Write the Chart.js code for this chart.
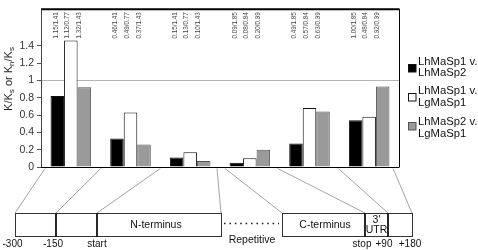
<!DOCTYPE html>
<html>
<head>
<meta charset="utf-8">
<script src="https://cdn.jsdelivr.net/npm/chart.js@4.4.1/dist/chart.umd.min.js"></script>
<style>
  html, body { margin: 0; padding: 0; background: #fff; }
  #wrap { width: 478px; height: 250px; }
</style>
</head>
<body>
<div id="wrap"><canvas id="chart" width="478" height="250"></canvas></div>
<script>
// gene regions (one bar group each)
const regions = ['-300 to -150', '-150 to start', 'N-terminus', 'C-terminus', "3' UTR", '+90 to +180'];

// K ratio per comparison
const sp1VsSp2 = [0.82, 0.33, 0.11, 0.05, 0.27, 0.54];
const sp1VsLg = [1.46, 0.63, 0.17, 0.10, 0.68, 0.58];
const sp2VsLg = [0.92, 0.26, 0.07, 0.20, 0.64, 0.93];

// raw values printed over each bar
const sp1VsSp2Notes = ['1.15/1.41', '0.46/1.41', '0.15/1.41', '0.09/1.85', '0.49/1.85', '1.00/1.85'];
const sp1VsLgNotes = ['1.12/0.77', '0.49/0.77', '0.13/0.77', '0.08/0.84', '0.57/0.84', '0.48/0.84'];
const sp2VsLgNotes = ['1.32/1.43', '0.37/1.43', '0.10/1.43', '0.20/0.99', '0.63/0.99', '0.92/0.99'];

const seriesNames = [['LhMaSp1 v.', 'LhMaSp2'], ['LhMaSp1 v.', 'LgMaSp1'], ['LhMaSp2 v.', 'LgMaSp1']];
const yTickLabels = ['0', '0.2', '0.4', '0.6', '0.8', '1', '1.2', '1.4'];
const geneMarks = ['-300', '-150', 'start', 'stop', '+90', '+180'];

const FONT = "'Liberation Sans', Arial, sans-serif";
const fills = ['#000000', '#ffffff', '#9a9a9a'];
const edges = ['#111111', '#111111', '#555555'];

// schematic layout (pixels)
const boxTop = 213, boxBottom = 236;
const boxEdges = [15, 56, 97, 221, 282, 365, 388, 412];
const markX = [12.5, 53, 97, 362, 384, 410];
const lineOffsets = [[0, 4], [1, 0], [2, 0], [3, -3], [3, 5], [4, -2], [5, -1], [6, -6]];

const extras = {
  id: 'extras',
  afterDatasetsDraw(chart) {
    const { ctx, chartArea: a, scales: { x } } = chart;
    ctx.save();

    // frame
    ctx.strokeStyle = '#000';
    ctx.lineWidth = 2;
    ctx.beginPath(); ctx.moveTo(a.left, a.top); ctx.lineTo(a.right + 0.5, a.top); ctx.stroke();
    ctx.lineWidth = 1;
    ctx.beginPath(); ctx.moveTo(a.right + 0.5, a.top); ctx.lineTo(a.right + 0.5, a.bottom); ctx.stroke();
    ctx.beginPath(); ctx.moveTo(a.left, a.bottom + 0.5); ctx.lineTo(a.right + 0.5, a.bottom + 0.5); ctx.stroke();
    ctx.strokeStyle = '#444';
    ctx.beginPath(); ctx.moveTo(a.left + 0.5, a.top); ctx.lineTo(a.left + 0.5, a.bottom); ctx.stroke();

    // rotated notes above the bars
    const notes = [sp1VsSp2Notes, sp1VsLgNotes, sp2VsLgNotes];
    const shift = [-15, -3.5, 8.5];
    ctx.fillStyle = '#444';
    ctx.font = '6.3px ' + FONT;
    ctx.textAlign = 'right';
    ctx.textBaseline = 'middle';
    regions.forEach((r, i) => {
      const cx = x.getPixelForValue(i);
      notes.forEach((n, k) => {
        ctx.save();
        ctx.translate(cx + shift[k], a.top + 3);
        ctx.rotate(-Math.PI / 2);
        ctx.fillText(n[i], 0, 0);
        ctx.restore();
      });
    });

    // y title with subscripts
    const parts = [['K', 0], ['/', 0], ['K', 0], ['s', 1], [' or ', 0], ['K', 0], ['n', 1], ['/', 0], ['K', 0], ['s', 1]];
    const big = '11px ' + FONT, small = '8px ' + FONT;
    let len = 0;
    parts.forEach(p => { ctx.font = p[1] ? small : big; len += ctx.measureText(p[0]).width; });
    ctx.save();
    ctx.translate(11.5, 79);
    ctx.rotate(-Math.PI / 2);
    ctx.fillStyle = '#222';
    ctx.textAlign = 'left';
    ctx.textBaseline = 'alphabetic';
    let px = -len / 2;
    parts.forEach(p => {
      ctx.font = p[1] ? small : big;
      ctx.fillText(p[0], px, p[1] ? 2.5 : 0);
      px += ctx.measureText(p[0]).width;
    });
    ctx.restore();

    // legend
    const lineY = [[62, 73], [91, 102.5], [122, 133.5]];
    const sqY = [68, 97, 126];
    ctx.font = '11.3px ' + FONT;
    ctx.textAlign = 'left';
    ctx.textBaseline = 'middle';
    seriesNames.forEach((name, i) => {
      ctx.fillStyle = fills[i];
      ctx.fillRect(408.5, sqY[i] - 3.5, 7.5, 7.5);
      ctx.strokeStyle = edges[i];
      ctx.lineWidth = 1;
      ctx.strokeRect(408.5, sqY[i] - 3.5, 7.5, 7.5);
      ctx.fillStyle = '#111';
      name.forEach((t, j) => ctx.fillText(t, 418, lineY[i][j]));
    });

    // connectors to the gene schematic
    const step = x.width / regions.length;
    ctx.strokeStyle = '#999';
    ctx.lineWidth = 0.9;
    lineOffsets.forEach(([b, off], i) => {
      ctx.beginPath();
      ctx.moveTo(x.left + b * step + off, a.bottom + 1.5);
      ctx.lineTo(boxEdges[i], boxTop);
      ctx.stroke();
    });

    // gene schematic boxes
    ctx.strokeStyle = '#333';
    ctx.lineWidth = 1;
    ctx.strokeRect(boxEdges[0] + 0.5, boxTop + 0.5, boxEdges[3] - boxEdges[0], boxBottom - boxTop);
    ctx.strokeRect(boxEdges[4] + 0.5, boxTop + 0.5, boxEdges[7] - boxEdges[4], boxBottom - boxTop);
    ctx.strokeStyle = '#111';
    ctx.lineWidth = 1.8;
    [1, 2, 5, 6].forEach(k => {
      ctx.beginPath();
      ctx.moveTo(boxEdges[k], boxTop);
      ctx.lineTo(boxEdges[k], boxBottom + 1);
      ctx.stroke();
    });

    // repetitive dots
    ctx.save();
    ctx.strokeStyle = '#222';
    ctx.lineWidth = 1.6;
    ctx.setLineDash([1.6, 3.8]);
    ctx.beginPath();
    ctx.moveTo(224, 223.5);
    ctx.lineTo(279, 223.5);
    ctx.stroke();
    ctx.restore();

    ctx.fillStyle = '#111';
    ctx.font = '10.5px ' + FONT;
    ctx.textAlign = 'center';
    ctx.textBaseline = 'middle';
    ctx.fillText('N-terminus', 156, 225);
    ctx.fillText('C-terminus', 325, 225);
    ctx.fillText("3'", 376.5, 220);
    ctx.fillText('UTR', 376.5, 230.5);
    ctx.fillText('Repetitive', 252, 240);
    ctx.font = '10px ' + FONT;
    geneMarks.forEach((m, i) => ctx.fillText(m, markX[i], 244));

    ctx.restore();
  }
};

new Chart(document.getElementById('chart'), {
  type: 'bar',
  data: {
    labels: regions,
    datasets: [
      { label: seriesNames[0].join(' '), data: sp1VsSp2, backgroundColor: fills[0], borderColor: edges[0] },
      { label: seriesNames[1].join(' '), data: sp1VsLg, backgroundColor: fills[1], borderColor: edges[1] },
      { label: seriesNames[2].join(' '), data: sp2VsLg, backgroundColor: fills[2], borderColor: edges[2] }
    ]
  },
  options: {
    responsive: false,
    animation: false,
    layout: { padding: { left: 0, top: 1, right: 79, bottom: 83 } },
    datasets: {
      bar: { borderWidth: 1, categoryPercentage: 0.68, barPercentage: 1, borderSkipped: 'start' }
    },
    plugins: {
      legend: { display: false },
      tooltip: { enabled: false }
    },
    scales: {
      x: { display: false },
      y: {
        min: 0,
        max: 1.82,
        afterFit: s => { s.width = 41; },
        ticks: {
          stepSize: 0.2,
          autoSkip: false,
          padding: 3,
          color: '#333',
          font: { family: FONT, size: 10.5 },
          callback: (v, i) => yTickLabels[i] !== undefined ? yTickLabels[i] : ''
        },
        grid: {
          color: c => c.index === 5 ? '#b5b5b5' : 'rgba(0,0,0,0)',
          tickColor: c => c.index < yTickLabels.length ? '#555' : 'rgba(0,0,0,0)',
          tickLength: 4
        },
        border: { display: false }
      }
    }
  },
  plugins: [extras]
});
</script>
</body>
</html>
